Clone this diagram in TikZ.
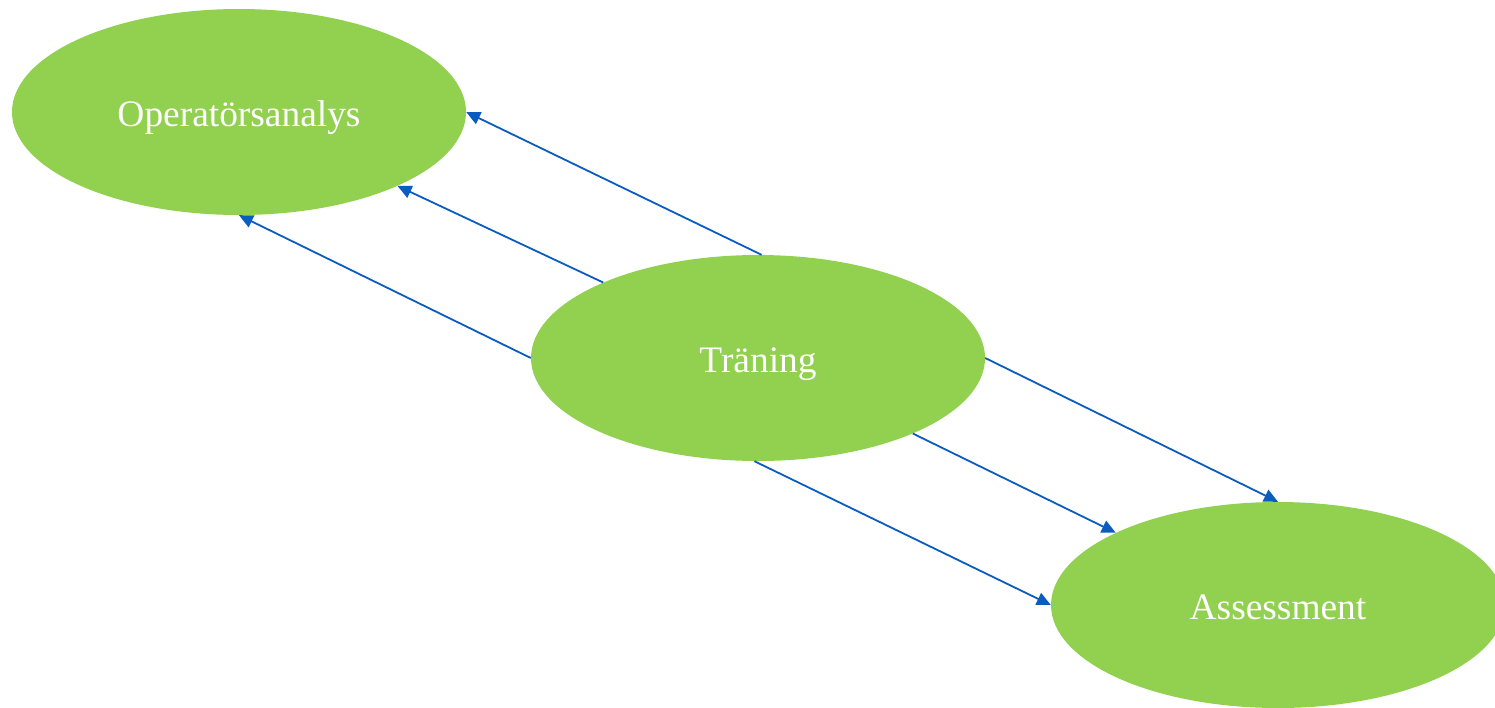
\documentclass[tikz,border=0pt]{standalone}
\usepackage{fontspec}
\setmainfont{Liberation Serif}
\usetikzlibrary{shapes.geometric,arrows.meta}
\definecolor{ngreen}{HTML}{92D050}
\definecolor{nblue}{HTML}{0B5CC0}
\begin{document}
\begin{tikzpicture}[x=1pt,y=-1pt,
  oval/.style={ellipse,fill=ngreen,draw=none,minimum width=454pt,minimum height=206pt,inner sep=0pt,text=white,text height=28pt,text depth=0pt,font=\fontsize{37.4pt}{40pt}\selectfont},
  link/.style={draw=nblue,line width=1.8pt,-{Triangle[length=14pt,width=13pt]}}]
\useasboundingbox (0,0) rectangle (1495,707);
\node[oval] (op) at (239,112) {Operatörsanalys};
\node[oval] (tr) at (758,358) {Träning};
\node[oval] (as) at (1278,605) {Assessment};
\draw[link] (tr.88) -- (op.east);
\draw[link] (tr.154) -- (op.-25);
\draw[link] (tr.west) -- (op.south);
\draw[link] (tr.east) -- (as.north);
\draw[link] (tr.-26) -- (as.156);
\draw[link] (tr.-92) -- (as.west);
\end{tikzpicture}
\end{document}
